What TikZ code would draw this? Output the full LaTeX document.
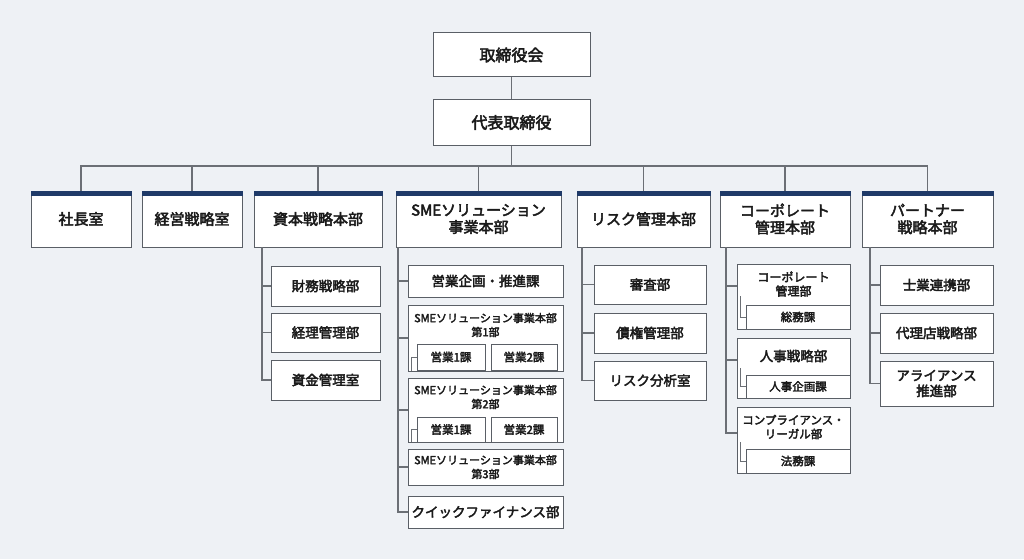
\documentclass[tikz,border=0pt]{standalone}
\usepackage{fontspec}
\setmainfont{Noto Sans CJK JP}[BoldFont={Noto Sans CJK JP}, BoldFeatures={FakeBold=3}]
\definecolor{bg}{HTML}{EEF1F5}
\definecolor{navy}{HTML}{1F3A68}
\definecolor{bord}{HTML}{5A5F66}
\definecolor{ln}{HTML}{6B6F75}
\definecolor{txt}{HTML}{1A1A1A}
\newcommand\bx[7]{\node[#7, minimum width={#4-#2}, minimum height={#5-#3}] (#1) at ({(#2+#4)/2},{(#3+#5)/2}) {#6};}
\begin{document}
\begin{tikzpicture}[x=1pt,y=-1pt,
  box/.style={draw=bord, fill=white, line width=1pt, inner sep=0pt, align=center, text=txt, font=\bfseries},
  top/.style={box, font=\fontsize{16}{18}\selectfont\bfseries},
  hq/.style={box, font=\fontsize{15}{17}\selectfont\bfseries},
  ch/.style={box, font=\fontsize{13.5}{15.5}\selectfont\bfseries},
  sm/.style={box, font=\fontsize{11.5}{13}\selectfont\bfseries},
  lab/.style={inner sep=0pt, align=center, text=txt},
  con/.style={draw=ln, line width=1.8pt},
  scon/.style={draw=ln, line width=1pt}]
\fill[bg] (0,0) rectangle (1024,559);
\useasboundingbox (0,0) rectangle (1024,559);
% top
\bx{board}{433}{33}{590}{77}{取締役会}{top}
\bx{ceo}{433}{100}{590}{145}{代表取締役}{top}
\coordinate (busL) at (80,166);
\coordinate (busR) at (928,166);
\draw[con] (board) -- (ceo);
\draw[con] (ceo.south) -- (ceo.south |- busL);
\draw[con] (busL) -- (busR);
% level 2
\bx{a}{31}{191}{131}{247}{社長室}{hq}
\bx{b}{142}{191}{242}{247}{経営戦略室}{hq}
\bx{c}{254}{191}{382}{247}{資本戦略本部}{hq}
\bx{d}{396}{191}{561}{247}{SMEソリューション\\事業本部}{hq}
\bx{e}{577}{191}{710}{247}{リスク管理本部}{hq}
\bx{f}{720}{191}{850}{247}{コーポレート\\管理本部}{hq}
\bx{g}{862}{191}{993}{247}{パートナー\\戦略本部}{hq}
\foreach \n in {a,b,c,d,e,f,g}{
  \draw[con] (\n.north |- busL) -- (\n.north);
  \fill[navy] (\n.north west) rectangle ([yshift=-5pt]\n.north east);
}
% c children
\bx{c1}{271}{266}{380}{306}{財務戦略部}{ch}
\bx{c2}{271}{313}{380}{352}{経理管理部}{ch}
\bx{c3}{271}{360}{380}{400}{資金管理室}{ch}
% d children
\bx{d1}{408}{265}{563}{297}{営業企画・推進課}{ch}
\bx{d2}{408}{305}{563}{371}{}{box}
\bx{d3}{408}{378}{563}{442}{}{box}
\bx{d4}{408}{449}{563}{485}{}{box}
\bx{d5}{408}{496}{563}{528}{クイックファイナンス部}{ch}
\node[lab, font=\fontsize{11}{14}\selectfont\bfseries] (d2t) at (485.5,325) {SMEソリューション事業本部\\第1部};
\node[lab, font=\fontsize{11}{14}\selectfont\bfseries] (d3t) at (485.5,397) {SMEソリューション事業本部\\第2部};
\node[lab, font=\fontsize{11}{14}\selectfont\bfseries] (d4t) at (485.5,467) {SMEソリューション事業本部\\第3部};
\bx{d2a}{417}{344}{485}{370}{営業1課}{sm}
\bx{d2b}{491}{344}{557}{370}{営業2課}{sm}
\bx{d3a}{417}{417}{485}{442}{営業1課}{sm}
\bx{d3b}{491}{417}{557}{442}{営業2課}{sm}
% e children
\bx{e1}{594}{265}{706}{304}{審査部}{ch}
\bx{e2}{594}{313}{706}{353}{債権管理部}{ch}
\bx{e3}{594}{361}{706}{400}{リスク分析室}{ch}
% f children
\bx{f1}{737}{264}{850}{329}{}{box}
\bx{f2}{737}{338}{850}{398}{}{box}
\bx{f3}{737}{407}{850}{473}{}{box}
\node[lab, font=\fontsize{12}{14}\selectfont\bfseries] (f1t) at (793.5,284) {コーポレート\\管理部};
\node[lab, font=\fontsize{13.5}{16}\selectfont\bfseries] (f2t) at (793.5,356) {人事戦略部};
\node[lab, font=\fontsize{11.5}{14}\selectfont\bfseries] (f3t) at (793.5,427) {コンプライアンス・\\リーガル部};
\bx{f1a}{746}{305}{850}{329}{総務課}{sm}
\bx{f2a}{746}{375}{850}{398}{人事企画課}{sm}
\bx{f3a}{746}{449}{850}{473}{法務課}{sm}
% g children
\bx{g1}{880}{265}{993}{305}{士業連携部}{ch}
\bx{g2}{880}{313}{993}{353}{代理店戦略部}{ch}
\bx{g3}{880}{361}{993}{406}{アライアンス\\推進部}{ch}
% tree connectors
\foreach \p/\xx/\list in {c/262/{c1,c2,c3}, d/398/{d1,d2,d3,d4,d5}, e/582/{e1,e2,e3}, g/870/{g1,g2,g3}}{
  \foreach \k in \list { \draw[con] (\xx,247) |- (\k.west); }
}
\draw[con] (726,247) |- (737,286);
\draw[con] (726,247) |- (737,360);
\draw[con] (726,247) |- (737,433);
% inner connectors
\draw[scon] (411,371) |- (d2a.west);
\draw[scon] (411,442) |- (d3a.west);
\draw[scon] (740,296) |- (f1a.west);
\draw[scon] (740,368) |- (f2a.west);
\draw[scon] (740,442) |- (f3a.west);
\end{tikzpicture}
\end{document}
